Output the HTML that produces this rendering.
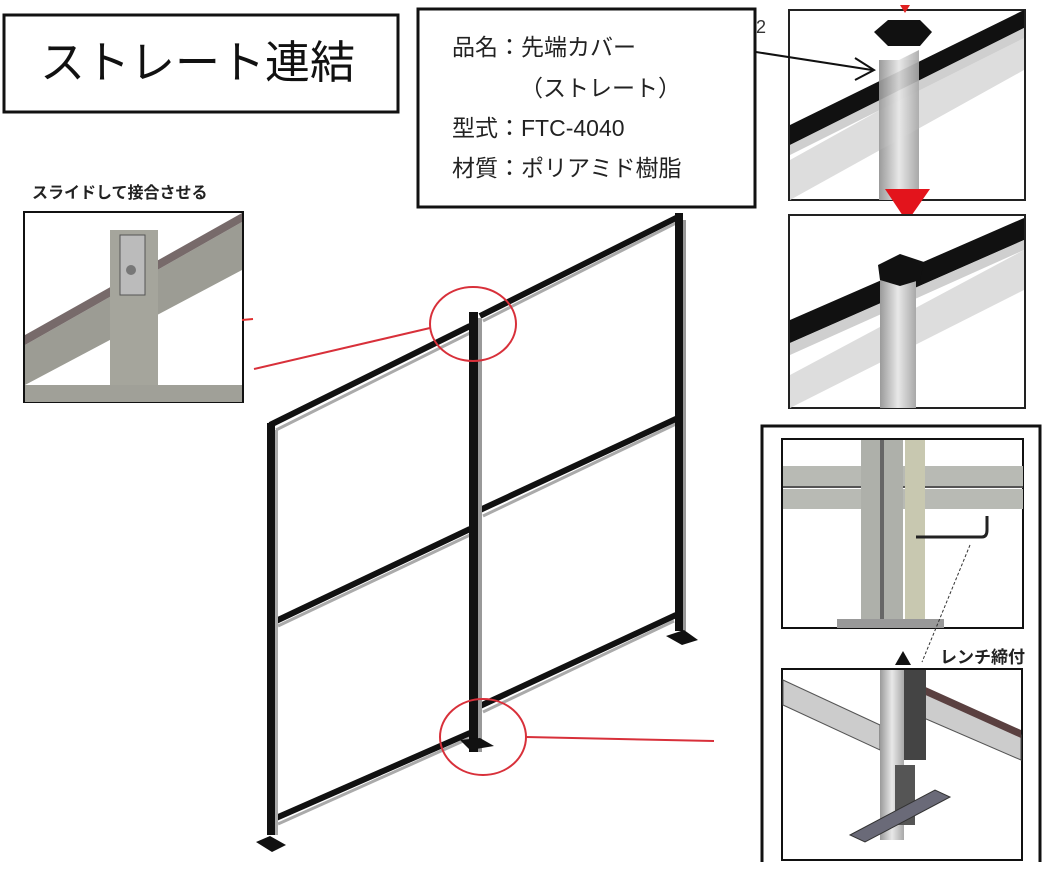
<!DOCTYPE html>
<html><head><meta charset="utf-8"><style>
body{margin:0;background:#fff;}
svg{display:block;font-family:"Liberation Sans","Noto Sans CJK JP",sans-serif;}
</style></head><body>
<svg width="1056" height="869" viewBox="0 0 1056 869" xmlns="http://www.w3.org/2000/svg">
<defs>
<linearGradient id="al" x1="0" x2="1"><stop offset="0" stop-color="#9a9a9a"/><stop offset=".5" stop-color="#e8e8e8"/><stop offset="1" stop-color="#a8a8a8"/></linearGradient>
</defs>
<rect x="4" y="15" width="394" height="97" fill="#fff" stroke="#111" stroke-width="3"/>
<text x="40" y="78" font-size="45" fill="#111">ストレート連結</text>
<rect x="418" y="9" width="337" height="198" fill="#fff" stroke="#111" stroke-width="3"/>
<g font-size="23" fill="#222">
<text x="452" y="55">品名：先端カバー</text>
<text x="520" y="96">（ストレート）</text>
<text x="452" y="136">型式：FTC-4040</text>
<text x="452" y="176">材質：ポリアミド樹脂</text>
</g>
<text x="756" y="33" font-size="18" fill="#333">2</text>
<rect x="789" y="10" width="236" height="190" fill="#fff" stroke="#222" stroke-width="2"/>
<g>
<rect x="879" y="60" width="40" height="140" fill="url(#al)"/>
<polygon points="790,160 1024,30 1024,70 790,200" fill="#ddd"/>
<polygon points="790,125 1024,10 1024,28 790,145" fill="#111"/>
<polygon points="790,145 1024,28 1024,38 790,155" fill="#cfcfcf"/>
<polygon points="879,70 919,50 919,200 879,200" fill="url(#al)" opacity=".9"/>
<polygon points="874,32 888,20 920,20 932,32 920,46 888,46" fill="#111"/>
<polygon points="900,5 910,5 905,13" fill="#e02020"/>
<line x1="756" y1="52" x2="872" y2="70" stroke="#111" stroke-width="2"/>
<polyline points="855,58 874,70 855,80" fill="none" stroke="#111" stroke-width="2"/>
</g>
<polygon points="885,189 930,189 907,222" fill="#e3141c"/>
<rect x="789" y="215" width="236" height="193" fill="#fff" stroke="#222" stroke-width="2"/>
<polygon points="790,375 1024,250 1024,290 790,408" fill="#ddd"/>
<polygon points="790,320 1024,218 1024,240 790,343" fill="#111"/>
<polygon points="790,343 1024,240 1024,250 790,355" fill="#cfcfcf"/>
<rect x="880" y="275" width="36" height="133" fill="url(#al)"/>
<polygon points="878,265 900,254 924,262 920,280 900,286 880,280" fill="#111"/>
<path d="M762,862 V426 H1040 V862" fill="none" stroke="#111" stroke-width="3"/>
<rect x="782" y="439" width="241" height="189" fill="#fff" stroke="#111" stroke-width="2"/>
<rect x="783" y="466" width="240" height="20" fill="#b8bab4"/>
<rect x="783" y="489" width="240" height="20" fill="#b8bab4"/>
<line x1="783" y1="487" x2="1023" y2="487" stroke="#555" stroke-width="2"/>
<rect x="861" y="440" width="42" height="188" fill="#aeb0aa"/>
<rect x="880" y="440" width="4" height="188" fill="#666"/>
<rect x="905" y="440" width="20" height="188" fill="#c8c8b0"/>
<rect x="837" y="619" width="107" height="9" fill="#999"/>
<path d="M916,537 H982 Q987,537 987,530 V516" fill="none" stroke="#222" stroke-width="3"/>
<line x1="970" y1="545" x2="922" y2="662" stroke="#333" stroke-width="1" stroke-dasharray="3,2"/>
<polygon points="895,665 903,651 911,665" fill="#111"/>
<text x="940" y="663" font-size="17" font-weight="bold" fill="#222">レンチ締付</text>
<rect x="782" y="669" width="240" height="191" fill="#fff" stroke="#111" stroke-width="2"/>
<polygon points="783,680 880,725 880,750 783,705" fill="#ccc" stroke="#555"/>
<polygon points="910,685 1021,735 1021,760 910,712" fill="#ccc" stroke="#555"/>
<polygon points="910,680 1021,730 1021,738 910,688" fill="#5a4040"/>
<rect x="880" y="670" width="24" height="170" fill="url(#al)"/>
<rect x="904" y="670" width="22" height="90" fill="#444"/>
<rect x="895" y="765" width="20" height="60" fill="#555"/>
<polygon points="850,835 935,790 950,797 865,842" fill="#6a6a78" stroke="#333"/>
<text x="32" y="198" font-size="16" font-weight="bold" fill="#222">スライドして接合させる</text>
<rect x="24" y="212" width="219" height="190" fill="#fff" stroke="#111" stroke-width="2"/>
<polygon points="25,345 242,222 242,270 25,385" fill="#9c9c94"/>
<polygon points="25,335 242,213 242,222 25,345" fill="#776a6a"/>
<rect x="110" y="230" width="48" height="172" fill="#a5a59c"/>
<rect x="120" y="235" width="25" height="60" fill="#bbb" stroke="#555"/>
<circle cx="131" cy="270" r="5" fill="#777"/>
<rect x="25" y="385" width="217" height="17" fill="#a0a098"/>
<line x1="242" y1="320" x2="253" y2="319" stroke="#e03030" stroke-width="2"/>
<g stroke-linecap="butt">
<g stroke="#111" stroke-width="6">
<line x1="270" y1="425" x2="470" y2="326"/>
<line x1="480" y1="316" x2="680" y2="216"/>
<line x1="276" y1="621" x2="470" y2="529"/>
<line x1="480" y1="510" x2="678" y2="418"/>
<line x1="276" y1="818" x2="470" y2="733"/>
<line x1="480" y1="706" x2="676" y2="615"/>
</g>
<g stroke="#aaa" stroke-width="3">
<line x1="276" y1="430" x2="470" y2="333"/>
<line x1="483" y1="321" x2="678" y2="222"/>
<line x1="278" y1="626" x2="470" y2="535"/>
<line x1="483" y1="516" x2="676" y2="424"/>
<line x1="278" y1="824" x2="470" y2="738"/>
<line x1="483" y1="712" x2="674" y2="621"/>
</g>
<rect x="267" y="423" width="8" height="412" fill="#111"/>
<rect x="275" y="430" width="3" height="405" fill="#aaa"/>
<polygon points="256,842 270,836 286,845 272,852" fill="#111"/>
<rect x="469" y="312" width="9" height="440" fill="#111"/>
<rect x="478" y="318" width="4" height="434" fill="#999"/>
<polygon points="460,740 480,738 494,746 470,750" fill="#111"/>
<rect x="675" y="213" width="8" height="418" fill="#111"/>
<rect x="683" y="220" width="3" height="411" fill="#999"/>
<polygon points="666,636 684,630 698,640 682,645" fill="#111"/>
</g>
<ellipse cx="473" cy="324" rx="43" ry="37" fill="none" stroke="#d8303a" stroke-width="2"/>
<ellipse cx="483" cy="737" rx="43" ry="38" fill="none" stroke="#d8303a" stroke-width="2"/>
<line x1="430" y1="328" x2="254" y2="369" stroke="#d8303a" stroke-width="2"/>
<line x1="526" y1="737" x2="714" y2="741" stroke="#d8303a" stroke-width="2"/>
</svg>
</body></html>
